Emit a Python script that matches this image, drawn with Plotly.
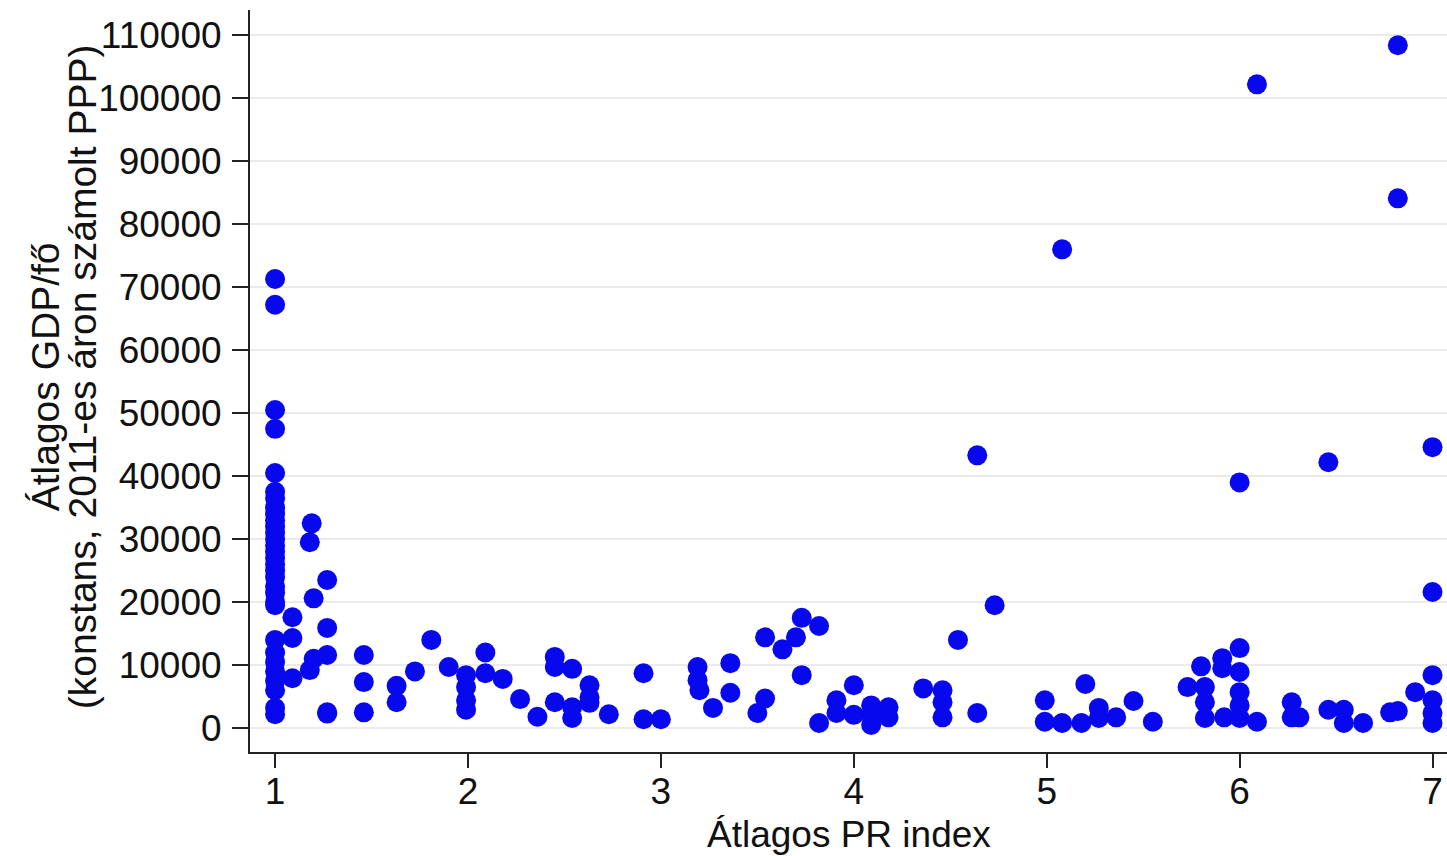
import plotly.graph_objects as go

# Átlagos PR index (x) and átlagos GDP/fő (y)
pr_index = [
    1, 1, 1, 1, 1, 1, 1, 1, 1, 1, 1, 1, 1, 1, 1, 1, 1, 1, 1, 1, 1, 1, 1,
    1, 1, 1, 1, 1, 1, 1, 1,
    1.09, 1.09, 1.09,
    1.19, 1.18, 1.2, 1.2, 1.18,
    1.27, 1.27, 1.27, 1.27, 1.27,
    1.46, 1.46, 1.46,
    1.63, 1.63, 1.725, 1.81, 1.90,
    1.99, 1.99, 1.99, 1.99,
    2.09, 2.09, 2.18, 2.27, 2.36,
    2.45, 2.45, 2.45, 2.54, 2.54, 2.54,
    2.63, 2.63, 2.63, 2.73,
    2.91, 2.91, 3.0,
    3.19, 3.19, 3.2, 3.27, 3.36, 3.36,
    3.50, 3.54, 3.54, 3.63, 3.70, 3.73, 3.73, 3.82, 3.82,
    3.91, 3.91, 4.0, 4.0,
    4.09, 4.09, 4.09, 4.18, 4.18,
    4.36, 4.46, 4.46, 4.46, 4.54, 4.64, 4.64, 4.73,
    4.99, 4.99, 5.08, 5.08, 5.18, 5.20, 5.27, 5.27, 5.36, 5.45, 5.55,
    5.73, 5.80, 5.82, 5.82, 5.82, 5.91, 5.91, 5.92,
    6.0, 6.0, 6.0, 6.0, 6.0, 6.0,
    6.09, 6.09, 6.27, 6.27, 6.31,
    6.46, 6.46, 6.54, 6.54, 6.64,
    6.78, 6.82, 6.82, 6.82, 6.91,
    7.0, 7.0, 7.0, 7.0, 7.0, 7.0,
]
gdp_per_capita = [
    71300, 67200, 50500, 47500, 40500, 37500, 36500, 35000, 34000, 33000, 32000,
    31000, 30000, 29000, 28000, 27000, 26000, 25000, 24000, 22500, 21500, 20000,
    19500,
    14000, 12000, 10500, 9000, 7500, 6000, 3200, 2200,
    17600, 14300, 7900,
    32500, 29500, 20600, 11000, 9200,
    23500, 15900, 11600, 2500, 2300,
    11600, 7300, 2500,
    6700, 4100, 9000, 14000, 9700,
    8400, 6500, 4400, 2900,
    12000, 8700, 7800, 4600, 1800,
    11300, 9700, 4100, 9400, 3300, 1600,
    6800, 4900, 4000, 2200,
    8700, 1400, 1400,
    9700, 7600, 6000, 3200, 10300, 5600,
    2400, 4700, 14400, 12500, 14400, 17500, 8400, 16200, 800,
    4400, 2400, 6800, 2100,
    3600, 2100, 500, 3300, 1700,
    6300, 6000, 4100, 1700, 14000, 43300, 2400, 19500,
    4400, 1000, 76000, 800, 800, 7000, 3200, 1600, 1700, 4300, 1000,
    6500, 9800, 6500, 4100, 1600, 11100, 9500, 1700,
    39000, 12700, 8900, 5700, 3600, 1600,
    102200, 1000, 4100, 1700, 1700,
    42200, 2900, 2900, 800, 800,
    2500, 108400, 84100, 2700, 5700,
    44600, 21600, 8400, 4400, 2400, 800,
]

x_ticks = [1, 2, 3, 4, 5, 6, 7]
y_ticks = [0, 10000, 20000, 30000, 40000, 50000, 60000, 70000, 80000, 90000, 100000, 110000]
y_title_lines = ["Átlagos GDP/fő", "(konstans, 2011-es áron számolt PPP)"]
x_title = "Átlagos PR index"

font_family = "Liberation Sans, Arial, sans-serif"
L_MARGIN = 250
T_MARGIN = 10
B_MARGIN = 104
PLOT_W = 1447 - L_MARGIN
PLOT_H = 856 - T_MARGIN - B_MARGIN

fig = go.Figure(
    go.Scatter(
        x=pr_index,
        y=gdp_per_capita,
        mode="markers",
        marker=dict(color="rgb(8,8,238)", size=20, line=dict(width=0)),
        showlegend=False,
    )
)

fig.update_layout(
    width=1447,
    height=856,
    margin=dict(l=L_MARGIN, r=0, t=T_MARGIN, b=B_MARGIN),
    paper_bgcolor="white",
    plot_bgcolor="white",
    font=dict(family=font_family, size=38, color="#111111"),
)

# two-line y title set as two rotated annotations (tight line spacing)
for px_center, line in zip([45, 82], y_title_lines):
    fig.add_annotation(
        text=line,
        textangle=-90,
        xref="paper",
        yref="paper",
        x=(px_center - L_MARGIN) / PLOT_W,
        y=0.505,
        xanchor="center",
        yanchor="middle",
        showarrow=False,
        font=dict(size=39, family=font_family, color="#111111"),
    )

# x title as an annotation placed just under the tick labels, kept inside the page
fig.add_annotation(
    text=x_title,
    xref="paper",
    yref="paper",
    x=0.5,
    y=(752 - 856) / PLOT_H,
    xanchor="center",
    yanchor="bottom",
    showarrow=False,
    borderpad=0,
    font=dict(size=37, family=font_family, color="#111111"),
)

fig.update_xaxes(
    range=[0.87, 7.075],
    tickvals=x_ticks,
    ticktext=[str(v) for v in x_ticks],
    ticks="outside",
    ticklen=14,
    tickwidth=2,
    tickcolor="#222222",
    ticklabelstandoff=-8,
    showline=True,
    linecolor="#222222",
    linewidth=2,
    showgrid=False,
    zeroline=False,
    tickfont=dict(size=37),
)

fig.update_yaxes(
    range=[-3800, 114000],
    tickvals=y_ticks,
    ticktext=[str(v) for v in y_ticks],
    ticks="outside",
    ticklen=16,
    tickwidth=2,
    tickcolor="#222222",
    ticklabelstandoff=3,
    showline=True,
    linecolor="#222222",
    linewidth=2,
    showgrid=True,
    gridcolor="#ebebeb",
    gridwidth=2,
    zeroline=False,
    tickfont=dict(size=37),
)

fig.write_html("out.html")
